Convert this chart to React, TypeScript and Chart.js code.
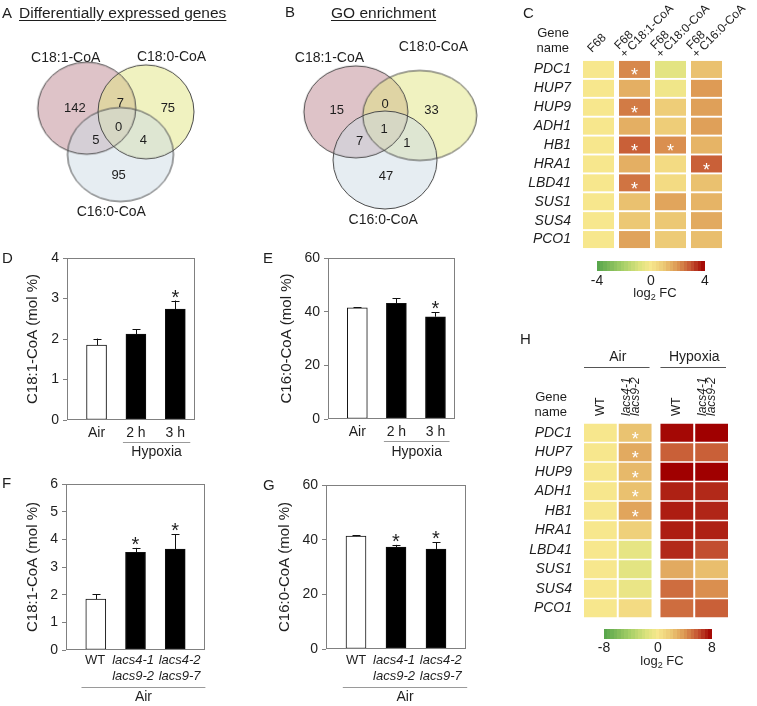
import React, { useEffect, useRef } from 'react';
import { Chart, registerables } from 'chart.js';

Chart.register(...registerables);

const FONT = '"Liberation Sans", Arial, Helvetica, sans-serif';
const INK = '#1e1e1e';
Chart.defaults.font.family = FONT;
Chart.defaults.color = INK;

// ======================= DATA =======================
// Venn diagrams
const vennSetNames = ['C18:1-CoA', 'C18:0-CoA', 'C16:0-CoA'];
// regions: [only C18:1, C18:1∩C18:0, only C18:0, all three, C18:1∩C16:0, C18:0∩C16:0, only C16:0]
const degCounts = [142, 7, 75, 0, 5, 4, 95];
const goCounts = [15, 0, 33, 1, 7, 1, 47];

// Bar panels D–G
const hypoxiaCategories = ['Air', '2 h', '3 h'];
const genotypeCategories = [['WT'], ['lacs4-1', 'lacs9-2'], ['lacs4-2', 'lacs9-7']];
const genotypeItalic = [false, true, true];
const hypoxiaGroup = { label: 'Hypoxia', from: 1, to: 2 };
const airGroup = { label: 'Air', from: 0, to: 2 };

const c181HypoxiaMean = [1.85, 2.12, 2.74];
const c181HypoxiaSE = [0.16, 0.12, 0.21];
const c181HypoxiaSig = [false, false, true];
const c160HypoxiaMean = [41.4, 43.1, 38.1];
const c160HypoxiaSE = [0.2, 1.9, 1.6];
const c160HypoxiaSig = [false, false, true];
const c181MutantMean = [1.84, 3.53, 3.65];
const c181MutantSE = [0.17, 0.16, 0.53];
const c181MutantSig = [false, true, true];
const c160MutantMean = [41.3, 37.3, 36.6];
const c160MutantSE = [0.3, 0.8, 2.4];
const c160MutantSig = [false, true, true];

const c181HypoxiaTicks = [0, 1, 2, 3, 4];
const c160Ticks = [0, 20, 40, 60];
const c181MutantTicks = [0, 1, 2, 3, 4, 5, 6];

// Heatmaps C and H (log2 fold change)
const heatGenes = ['PDC1', 'HUP7', 'HUP9', 'ADH1', 'HB1', 'HRA1', 'LBD41', 'SUS1', 'SUS4', 'PCO1'];

const heatCColumnLabels = [['F68'], ['F68', '+ C18:1-CoA'], ['F68', '+ C18:0-CoA'], ['F68', '+ C16:0-CoA']];
const heatCF68 = [0, 0, 0, 0, 0, 0, 0, 0, 0, 0];
const heatCC181 = [2.2, 1.5, 2.4, 1.5, 2.8, 1.5, 2.5, 1.15, 1.0, 1.75];
const heatCC180 = [-0.6, -0.2, 0.85, 0.85, 2.1, 0.4, 0.4, 1.7, 1.0, 0.9];
const heatCC160 = [1.15, 1.9, 1.8, 1.8, 1.4, 2.8, 1.15, 1.4, 1.6, 1.2];
const heatCSigF68 = [false, false, false, false, false, false, false, false, false, false];
const heatCSigC181 = [true, false, true, false, true, false, true, false, false, false];
const heatCSigC180 = [false, false, false, false, true, false, false, false, false, false];
const heatCSigC160 = [false, false, false, false, false, true, false, false, false, false];
const heatCScaleTicks = [-4, 0, 4];
const heatCScaleMax = 4;

const heatHGroups = ['Air', 'Hypoxia'];
const heatHColumnGroup = [0, 0, 1, 1];
const heatHColumnLabels = [['WT'], ['lacs4-1', 'lacs9-2'], ['WT'], ['lacs4-1', 'lacs9-2']];
const heatHAirWT = [0, 0, 0, 0, 0, 0, 0, 0, 0, 0];
const heatHAirLacs = [2.2, 3.2, 2.6, 2.3, 3.4, 1.5, -1.0, -1.2, -0.8, 0.8];
const heatHHypWT = [7.8, 5.6, 8.0, 7.2, 7.3, 7.3, 7.0, 3.2, 5.2, 5.2];
const heatHHypLacs = [8.0, 5.6, 8.0, 7.0, 7.1, 7.2, 6.1, 2.4, 4.2, 5.6];
const heatHSigAirWT = [false, false, false, false, false, false, false, false, false, false];
const heatHSigAirLacs = [true, true, true, true, true, false, false, false, false, false];
const heatHSigHypWT = [false, false, false, false, false, false, false, false, false, false];
const heatHSigHypLacs = [false, false, false, false, false, false, false, false, false, false];
const heatHScaleTicks = [-8, 0, 8];
const heatHScaleMax = 8;

// ======================= STYLE / LAYOUT =======================
const HEAT_STOPS: [number, number[]][] = [
  [-1, [84, 163, 74]],
  [-0.5, [168, 208, 104]],
  [-0.2, [220, 227, 126]],
  [0, [247, 231, 141]],
  [0.25, [236, 200, 116]],
  [0.5, [220, 150, 82]],
  [0.75, [196, 82, 50]],
  [1, [160, 0, 0]],
];

function heatColor(t: number) {
  const v = Math.max(-1, Math.min(1, t));
  for (let i = 0; i < HEAT_STOPS.length - 1; i++) {
    const [a, ca] = HEAT_STOPS[i];
    const [b, cb] = HEAT_STOPS[i + 1];
    if (v >= a && v <= b) {
      const f = (v - a) / (b - a);
      const c = ca.map((x, k) => Math.round(x + (cb[k] - x) * f));
      return `rgb(${c[0]},${c[1]},${c[2]})`;
    }
  }
  return 'rgb(160,0,0)';
}

const VENN_FILLS = ['rgba(190,135,145,0.5)', 'rgba(225,230,130,0.5)', 'rgba(205,220,230,0.5)'];
const VENN_STROKE = '#4a4a4a';

const VENN_A = {
  left: 0, top: 0, width: 250, height: 240,
  ellipses: [
    { cx: 83, cy: 107, rx: 49, ry: 46 },
    { cx: 148, cy: 111, rx: 48, ry: 47 },
    { cx: 120, cy: 158, rx: 53, ry: 47 },
  ],
  names: [[60, 52], [176, 51], [110, 221]],
  regions: [[70, 107], [120, 102], [172, 107], [118, 128], [93, 143], [145, 143], [118, 181]],
};
const VENN_B = {
  left: 250, top: 0, width: 250, height: 240,
  ellipses: [
    { cx: 104, cy: 111, rx: 52, ry: 46 },
    { cx: 174, cy: 115, rx: 57, ry: 45 },
    { cx: 136, cy: 164, rx: 52, ry: 49 },
  ],
  names: [[75, 52], [189, 40], [134, 230]],
  regions: [[83, 109], [136, 103], [187, 109], [135, 130], [108, 144], [160, 146], [137, 182]],
};

const BAR_D = {
  left: 0, top: 240, width: 250, height: 228,
  box: { x0: 67, y0: 258, x1: 195, y1: 420 }, xMin: -0.75, xMax: 2.5, labelShift: [0, 0, 0],
  titlePad: 24, tickFont: 14, tickPad: 5, groupPad: [0.33, 0.38], lineDy: 22, textDy: 32,
};
const BAR_E = {
  left: 250, top: 240, width: 250, height: 228,
  box: { x0: 328, y0: 258, x1: 455, y1: 419 }, xMin: -0.75, xMax: 2.5, labelShift: [0, 0, 0],
  titlePad: 28, tickFont: 14, tickPad: 5, groupPad: [0.32, 0.36], lineDy: 22, textDy: 33,
};
const BAR_F = {
  left: 0, top: 468, width: 250, height: 238,
  box: { x0: 66, y0: 484, x1: 205, y1: 650 }, xMin: -0.75, xMax: 2.75, labelShift: [-0.02, -0.06, 0.11],
  titlePad: 24, tickFont: 13, tickPad: 3, groupPad: [0.36, 0.76], lineDy: 37, textDy: 47,
};
const BAR_G = {
  left: 250, top: 468, width: 250, height: 238,
  box: { x0: 326, y0: 485, x1: 466, y1: 649 }, xMin: -0.75, xMax: 2.75, labelShift: [0, -0.05, 0.12],
  titlePad: 26, tickFont: 13, tickPad: 4, groupPad: [0.33, 0.78], lineDy: 38, textDy: 48,
};

const HEAT_C = {
  left: 500, top: 0, width: 257, height: 320,
  cell: { x0: 583, y0: 60, x1: 722, y1: 249 }, barPct: 0.9, colWidth: 0.861,
  colorbar: { dx0: 14, dx1: 17, dy: 12, h: 10, labelDy: 10, titleDy: 21 },
};
const HEAT_H = {
  left: 500, top: 330, width: 257, height: 376,
  cell: { x0: 584, y0: 423, x1: 728, y1: 618 }, barPct: 0.92, colWidth: 0.943, groupGap: 0.2,
  colorbar: { dx0: 20, dx1: 16, dy: 11, h: 10, labelDy: 9, titleDy: 21 },
};

// ======================= HELPERS =======================
function ellipseImage(rx: number, ry: number, fill: string | null, stroke: string | null) {
  const c = document.createElement('canvas');
  c.width = Math.ceil(2 * rx + 4);
  c.height = Math.ceil(2 * ry + 4);
  const g = c.getContext('2d')!;
  g.beginPath();
  g.ellipse(c.width / 2, c.height / 2, rx, ry, 0, 0, Math.PI * 2);
  if (fill) { g.fillStyle = fill; g.fill(); }
  if (stroke) { g.strokeStyle = stroke; g.lineWidth = 1; g.stroke(); }
  return c;
}

function makeVennConfig(L: any, counts: number[]) {
  const pts = L.ellipses.map((e: any) => ({ x: e.cx, y: e.cy }));
  return {
    type: 'scatter',
    data: {
      datasets: [
        { data: pts, pointStyle: L.ellipses.map((e: any) => ellipseImage(e.rx, e.ry, null, VENN_STROKE)), pointRadius: 10 },
        { data: pts, pointStyle: L.ellipses.map((e: any, i: number) => ellipseImage(e.rx, e.ry, VENN_FILLS[i], null)), pointRadius: 10 },
      ],
    },
    options: {
      animation: false, responsive: true, maintainAspectRatio: false, events: [],
      layout: { padding: 0 },
      plugins: { legend: { display: false }, tooltip: { enabled: false } },
      scales: {
        x: { type: 'linear', display: false, min: 0, max: L.width },
        y: { type: 'linear', display: false, min: 0, max: L.height, reverse: true },
      },
    },
    plugins: [{
      id: 'vennText',
      afterDatasetsDraw(chart: any) {
        const { ctx } = chart;
        const xs = chart.scales.x, ys = chart.scales.y;
        ctx.save();
        ctx.fillStyle = INK; ctx.textAlign = 'center'; ctx.textBaseline = 'middle';
        ctx.font = `14px ${FONT}`;
        vennSetNames.forEach((n, i) => ctx.fillText(n, xs.getPixelForValue(L.names[i][0]), ys.getPixelForValue(L.names[i][1])));
        ctx.font = `13px ${FONT}`;
        counts.forEach((c, i) => ctx.fillText(String(c), xs.getPixelForValue(L.regions[i][0]), ys.getPixelForValue(L.regions[i][1])));
        ctx.restore();
      },
    }],
  };
}

function makeBarConfig(L: any, s: any) {
  const { labels, values, errors, sig, ticks, title, group, italic } = s;
  const canvasRight = L.left + L.width;
  const canvasBottom = L.top + L.height;
  const b = L.box;
  return {
    type: 'bar',
    data: {
      datasets: [{
        data: values.map((v: number, i: number) => ({ x: i, y: v })),
        backgroundColor: values.map((_: number, i: number) => (i === 0 ? '#ffffff' : '#000000')),
        borderColor: '#111111', borderWidth: 1, borderSkipped: false, barThickness: 20,
      }],
    },
    options: {
      animation: false, responsive: true, maintainAspectRatio: false, events: [],
      layout: { padding: { left: 0, top: b.y0 - L.top, right: canvasRight - b.x1, bottom: 0 } },
      plugins: { legend: { display: false }, tooltip: { enabled: false } },
      scales: {
        x: {
          type: 'linear', min: L.xMin, max: L.xMax, offset: false,
          afterBuildTicks: (a: any) => { a.ticks = labels.map((_: any, i: number) => ({ value: i + L.labelShift[i] })); },
          afterFit: (sc: any) => { sc.height = canvasBottom - b.y1; },
          grid: { display: false, drawTicks: false, offset: false }, border: { display: false },
          ticks: {
            autoSkip: false, maxRotation: 0, minRotation: 0, padding: L.tickPad, color: INK,
            font: (c: any) => ({ family: FONT, size: L.tickFont, style: italic && italic[c.index] ? 'italic' : 'normal' }),
            callback: (_v: number, idx: number) => labels[idx],
          },
        },
        y: {
          type: 'linear', min: ticks[0], max: ticks[ticks.length - 1],
          afterBuildTicks: (a: any) => { a.ticks = ticks.map((v: number) => ({ value: v })); },
          afterFit: (sc: any) => { sc.width = b.x0 - L.left; },
          grid: { display: true, drawOnChartArea: false, drawTicks: true, tickLength: 4, color: '#808080' },
          border: { display: false },
          ticks: { padding: 4, color: INK, font: { family: FONT, size: 14 } },
          title: { display: true, text: title, color: INK, font: { family: FONT, size: 15 }, padding: { top: L.titlePad, bottom: 0 } },
        },
      },
    },
    plugins: [{
      id: 'barExtras',
      afterDatasetsDraw(chart: any) {
        const { ctx, chartArea: A } = chart;
        const xs = chart.scales.x, ys = chart.scales.y;
        ctx.save();
        ctx.strokeStyle = '#808080'; ctx.lineWidth = 1;
        ctx.strokeRect(A.left + 0.5, A.top + 0.5, A.right - A.left - 1, A.bottom - A.top - 1);
        const meta = chart.getDatasetMeta(0);
        meta.data.forEach((bar: any, i: number) => {
          const x = Math.round(bar.x) + 0.5;
          const yTop = ys.getPixelForValue(values[i] + errors[i]);
          ctx.strokeStyle = '#111'; ctx.beginPath();
          ctx.moveTo(x, bar.y); ctx.lineTo(x, yTop);
          ctx.moveTo(x - 4, Math.round(yTop) + 0.5); ctx.lineTo(x + 4, Math.round(yTop) + 0.5);
          ctx.stroke();
          if (sig[i]) {
            ctx.fillStyle = INK; ctx.font = `20px ${FONT}`; ctx.textAlign = 'center'; ctx.textBaseline = 'alphabetic';
            ctx.fillText('*', bar.x, yTop + 3);
          }
        });
        if (group) {
          const x1 = xs.getPixelForValue(group.from - L.groupPad[0]);
          const x2 = xs.getPixelForValue(group.to + L.groupPad[1]);
          const yl = Math.round(A.bottom + L.lineDy) + 0.5;
          ctx.strokeStyle = '#9a9a9a'; ctx.beginPath(); ctx.moveTo(x1, yl); ctx.lineTo(x2, yl); ctx.stroke();
          ctx.fillStyle = INK; ctx.font = `14px ${FONT}`; ctx.textAlign = 'center'; ctx.textBaseline = 'middle';
          ctx.fillText(group.label, (x1 + x2) / 2, A.bottom + L.textDy);
        }
        ctx.restore();
      },
    }],
  };
}

function drawLog2FC(ctx: CanvasRenderingContext2D, cx: number, cy: number) {
  const big = `13px ${FONT}`, small = `9px ${FONT}`;
  ctx.font = big; const w1 = ctx.measureText('log').width; const w3 = ctx.measureText(' FC').width;
  ctx.font = small; const w2 = ctx.measureText('2').width;
  let x = cx - (w1 + w2 + w3) / 2;
  const base = cy + 4.7;
  ctx.textAlign = 'left'; ctx.textBaseline = 'alphabetic';
  ctx.font = big; ctx.fillText('log', x, base); x += w1;
  ctx.font = small; ctx.fillText('2', x, base + 3); x += w2;
  ctx.font = big; ctx.fillText(' FC', x, base);
}

function makeHeatConfig(L: any, s: any) {
  const { columns, sig, colStarts, vmax, scaleTicks, header } = s;
  const xMax = colStarts[colStarts.length - 1] + L.colWidth;
  const c = L.cell;
  return {
    type: 'bar',
    data: {
      labels: heatGenes,
      datasets: columns.map((vals: number[], ci: number) => ({
        data: vals.map(() => [colStarts[ci], colStarts[ci] + L.colWidth]),
        backgroundColor: vals.map((v) => heatColor(v / vmax)),
        borderWidth: 0, grouped: false, categoryPercentage: 1, barPercentage: L.barPct,
      })),
    },
    options: {
      indexAxis: 'y',
      animation: false, responsive: true, maintainAspectRatio: false, events: [],
      layout: { padding: { left: 0, top: c.y0 - L.top, right: L.left + L.width - c.x1, bottom: L.top + L.height - c.y1 } },
      plugins: { legend: { display: false }, tooltip: { enabled: false } },
      scales: {
        y: {
          type: 'category', offset: true,
          afterFit: (sc: any) => { sc.width = c.x0 - L.left; },
          grid: { display: false, drawTicks: false }, border: { display: false },
          ticks: { autoSkip: false, padding: 12, color: INK, font: { family: FONT, size: 14, style: 'italic' } },
        },
        x: { type: 'linear', display: false, min: 0, max: xMax },
      },
    },
    plugins: [{
      id: 'heatExtras',
      afterDatasetsDraw(chart: any) {
        const { ctx, chartArea: A } = chart;
        const xs = chart.scales.x;
        const centers = colStarts.map((v: number) => xs.getPixelForValue(v + L.colWidth / 2));
        ctx.save();
        ctx.fillStyle = '#ffffff'; ctx.font = `18px ${FONT}`; ctx.textAlign = 'center'; ctx.textBaseline = 'alphabetic';
        sig.forEach((flags: boolean[], ci: number) => {
          const meta = chart.getDatasetMeta(ci);
          flags.forEach((f, ri) => {
            if (!f) return;
            const p = meta.data[ri].getCenterPoint();
            ctx.fillText('*', p.x, p.y + 12);
          });
        });
        ctx.fillStyle = INK;
        header(ctx, A, centers, xs, colStarts, L.colWidth);
        // colour scale legend
        const cb = L.colorbar;
        const x0 = A.left + cb.dx0, x1 = A.right - cb.dx1, y0 = A.bottom + cb.dy;
        const n = 31;
        for (let k = 0; k < n; k++) {
          const t = -1 + ((k + 0.5) * 2) / n;
          ctx.fillStyle = heatColor(t);
          const a = x0 + ((x1 - x0) * k) / n, bb = x0 + ((x1 - x0) * (k + 1)) / n;
          ctx.fillRect(Math.floor(a), y0, Math.ceil(bb) - Math.floor(a), cb.h);
        }
        ctx.fillStyle = INK; ctx.font = `14px ${FONT}`; ctx.textAlign = 'center'; ctx.textBaseline = 'middle';
        scaleTicks.forEach((v: number) => ctx.fillText(String(v), x0 + ((x1 - x0) * (v + vmax)) / (2 * vmax), y0 + cb.h + cb.labelDy));
        drawLog2FC(ctx, (x0 + x1) / 2 + 4, y0 + cb.h + cb.titleDy);
        ctx.restore();
      },
    }],
  };
}

function headerC(ctx: CanvasRenderingContext2D, A: any, centers: number[]) {
  ctx.font = `13px ${FONT}`; ctx.textAlign = 'right'; ctx.textBaseline = 'middle';
  ctx.fillText('Gene', A.left - 14, A.top - 27);
  ctx.fillText('name', A.left - 14, A.top - 12);
  ctx.font = `12px ${FONT}`; ctx.textAlign = 'left'; ctx.textBaseline = 'alphabetic';
  heatCColumnLabels.forEach((lines, ci) => {
    const cx = centers[ci];
    const multi = lines.length > 1;
    ctx.save();
    ctx.translate(multi ? cx - 15.5 : cx - 6.5, multi ? A.top - 10 : A.top - 7);
    ctx.rotate(-Math.PI / 4);
    lines.forEach((t, li) => ctx.fillText(t, -2 * li, 10 * li));
    ctx.restore();
  });
}

function headerH(ctx: CanvasRenderingContext2D, A: any, centers: number[], xs: any, colStarts: number[], colWidth: number) {
  ctx.font = `13px ${FONT}`; ctx.textAlign = 'right'; ctx.textBaseline = 'middle';
  ctx.fillText('Gene', A.left - 17, A.top - 26);
  ctx.fillText('name', A.left - 17, A.top - 11);
  heatHGroups.forEach((g, gi) => {
    const cols = heatHColumnGroup.map((x, i) => (x === gi ? i : -1)).filter((i) => i >= 0);
    const x1 = xs.getPixelForValue(colStarts[cols[0]]);
    const x2 = xs.getPixelForValue(colStarts[cols[cols.length - 1]] + colWidth) - 2;
    const yl = Math.round(A.top - 56) + 0.5;
    ctx.strokeStyle = '#555'; ctx.lineWidth = 1;
    ctx.beginPath(); ctx.moveTo(x1, yl); ctx.lineTo(x2, yl); ctx.stroke();
    ctx.font = `14px ${FONT}`; ctx.textAlign = 'center'; ctx.textBaseline = 'middle';
    ctx.fillText(g, (x1 + x2) / 2 + 1, A.top - 66);
  });
  ctx.textAlign = 'left'; ctx.textBaseline = 'middle';
  heatHColumnLabels.forEach((lines, ci) => {
    const cx = centers[ci];
    const offs = lines.length > 1 ? [-8.5, 0.5] : [0];
    lines.forEach((t, li) => {
      ctx.font = `${t.startsWith('lacs') ? 'italic ' : ''}12px ${FONT}`;
      ctx.save();
      ctx.translate(cx + offs[li], A.top - 7);
      ctx.rotate(-Math.PI / 2);
      ctx.fillText(t, 0, 0);
      ctx.restore();
    });
  });
}

const hColStarts = heatHColumnGroup.map((g, i) => i + g * HEAT_H.groupGap);

// ======================= BUILDERS =======================
const buildVennA = () => makeVennConfig(VENN_A, degCounts);
const buildVennB = () => makeVennConfig(VENN_B, goCounts);
const buildD = () => makeBarConfig(BAR_D, {
  labels: hypoxiaCategories, values: c181HypoxiaMean, errors: c181HypoxiaSE, sig: c181HypoxiaSig,
  ticks: c181HypoxiaTicks, title: 'C18:1-CoA (mol %)', group: hypoxiaGroup,
});
const buildE = () => makeBarConfig(BAR_E, {
  labels: hypoxiaCategories, values: c160HypoxiaMean, errors: c160HypoxiaSE, sig: c160HypoxiaSig,
  ticks: c160Ticks, title: 'C16:0-CoA (mol %)', group: hypoxiaGroup,
});
const buildF = () => makeBarConfig(BAR_F, {
  labels: genotypeCategories, values: c181MutantMean, errors: c181MutantSE, sig: c181MutantSig,
  ticks: c181MutantTicks, title: 'C18:1-CoA (mol %)', group: airGroup, italic: genotypeItalic,
});
const buildG = () => makeBarConfig(BAR_G, {
  labels: genotypeCategories, values: c160MutantMean, errors: c160MutantSE, sig: c160MutantSig,
  ticks: c160Ticks, title: 'C16:0-CoA (mol %)', group: airGroup, italic: genotypeItalic,
});
const buildC = () => makeHeatConfig(HEAT_C, {
  columns: [heatCF68, heatCC181, heatCC180, heatCC160],
  sig: [heatCSigF68, heatCSigC181, heatCSigC180, heatCSigC160],
  colStarts: heatCColumnLabels.map((_, i) => i), vmax: heatCScaleMax, scaleTicks: heatCScaleTicks, header: headerC,
});
const buildH = () => makeHeatConfig(HEAT_H, {
  columns: [heatHAirWT, heatHAirLacs, heatHHypWT, heatHHypLacs],
  sig: [heatHSigAirWT, heatHSigAirLacs, heatHSigHypWT, heatHSigHypLacs],
  colStarts: hColStarts, vmax: heatHScaleMax, scaleTicks: heatHScaleTicks, header: headerH,
});

// ======================= COMPONENTS =======================
function ChartCanvas({ rect, build }: { rect: any; build: () => any }) {
  const ref = useRef<HTMLCanvasElement | null>(null);
  useEffect(() => {
    const el = ref.current;
    if (!el) return;
    const chart = new Chart(el, build() as any);
    return () => chart.destroy();
  }, [build]);
  return (
    <div style={{ position: 'absolute', left: rect.left, top: rect.top, width: rect.width, height: rect.height }}>
      <canvas ref={ref} />
    </div>
  );
}

function Label({ x, cy, size, underline, children }: any) {
  return (
    <div
      style={{
        position: 'absolute', left: x, top: cy - size * 0.6, fontFamily: FONT, fontSize: size,
        lineHeight: `${size * 1.2}px`, color: INK, whiteSpace: 'nowrap',
        textDecoration: underline ? 'underline' : undefined, textUnderlineOffset: underline ? '2px' : undefined,
      }}
    >
      {children}
    </div>
  );
}

export default function App() {
  return (
    <div style={{ position: 'absolute', left: 0, top: 0, width: 757, height: 706, background: '#fff', overflow: 'hidden' }}>
      <ChartCanvas rect={VENN_A} build={buildVennA} />
      <ChartCanvas rect={VENN_B} build={buildVennB} />
      <ChartCanvas rect={HEAT_C} build={buildC} />
      <ChartCanvas rect={BAR_D} build={buildD} />
      <ChartCanvas rect={BAR_E} build={buildE} />
      <ChartCanvas rect={BAR_F} build={buildF} />
      <ChartCanvas rect={BAR_G} build={buildG} />
      <ChartCanvas rect={HEAT_H} build={buildH} />
      <Label x={2} cy={13} size={15}>A</Label>
      <Label x={19} cy={13} size={15.5} underline>Differentially expressed genes</Label>
      <Label x={285} cy={12} size={15}>B</Label>
      <Label x={331} cy={13} size={15.5} underline>GO enrichment</Label>
      <Label x={523} cy={12.5} size={15}>C</Label>
      <Label x={2} cy={258} size={15}>D</Label>
      <Label x={263} cy={258} size={15}>E</Label>
      <Label x={2} cy={483} size={15}>F</Label>
      <Label x={263} cy={485} size={15}>G</Label>
      <Label x={520} cy={339} size={15}>H</Label>
    </div>
  );
}
